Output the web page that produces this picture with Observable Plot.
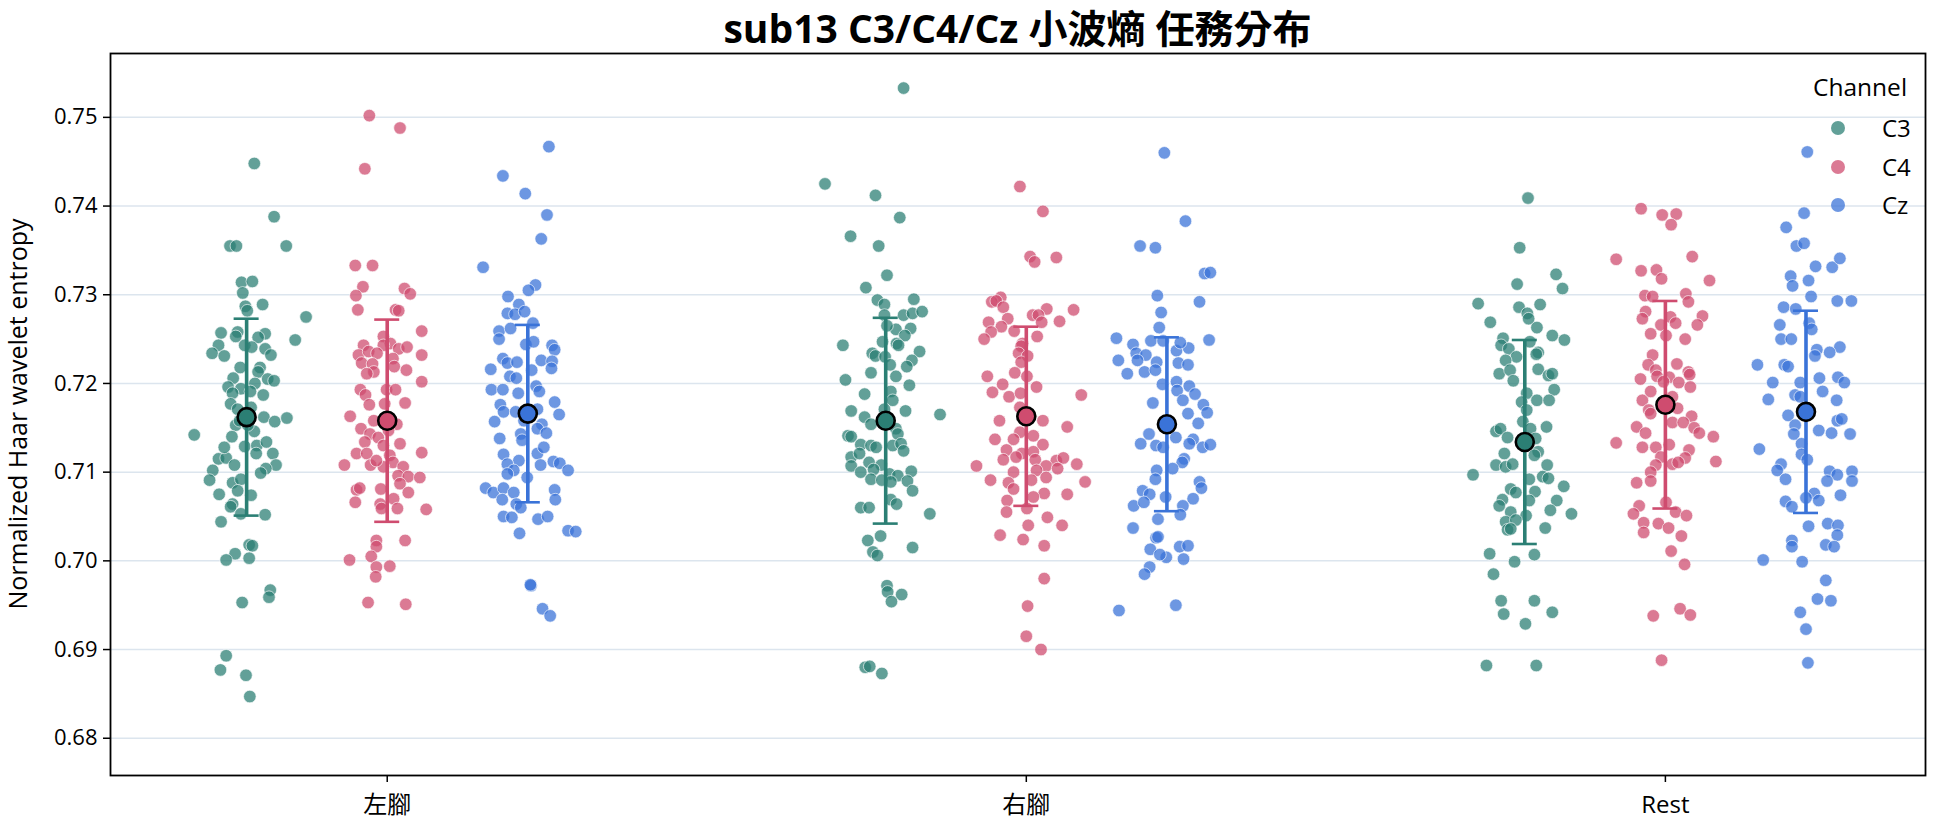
<!DOCTYPE html>
<html><head><meta charset="utf-8">
<script src="https://cdn.jsdelivr.net/npm/d3@7"></script>
<script src="https://cdn.jsdelivr.net/npm/@observablehq/plot@0.6"></script>
<style>
body{margin:0;background:#fff;font-family:"Open Sans","Noto Sans CJK TC",sans-serif;color:#000;}
#wrap{position:relative;width:1944px;height:827px;overflow:hidden;}
#title{position:absolute;z-index:5;left:110px;width:1815px;top:4px;text-align:center;font-size:39px;font-weight:bold;line-height:48px;white-space:nowrap;}
#ylabel{position:absolute;z-index:5;left:17px;top:414px;transform:translate(-50%,-50%) rotate(-90deg);white-space:nowrap;font-size:25px;line-height:1.2;}
#chart{position:absolute;z-index:1;left:0;top:43px;}
#legend{position:absolute;z-index:6;left:0;top:0;width:1944px;height:827px;pointer-events:none;}
.lt{position:absolute;font-size:24px;line-height:1.2;transform:translateY(-50%);white-space:nowrap;}
.ld{position:absolute;width:14px;height:14px;border-radius:50%;transform:translate(-50%,-50%);}
</style></head><body>
<div id="wrap">
<div id="title">sub13 C3/C4/Cz 小波熵 任務分布</div>
<div id="ylabel">Normalized Haar wavelet entropy</div>
<div id="chart"></div>
<div id="legend"></div>
</div>
<script>
// ---- data ----
const tasks = ["左腳", "右腳", "Rest"];
const channels = ["C3", "C4", "Cz"];
const yTicks = [0.68, 0.69, 0.70, 0.71, 0.72, 0.73, 0.74, 0.75];

// means and standard deviations per task (左腳, 右腳, Rest)
const meanC3 = [0.7162, 0.7158, 0.7134];
const meanC4 = [0.7158, 0.7163, 0.7176];
const meanCz = [0.7166, 0.7154, 0.7168];
const sdC3 = [0.0111, 0.0116, 0.0115];
const sdC4 = [0.0114, 0.0101, 0.0117];
const sdCz = [0.0100, 0.0098, 0.0114];

// individual points: [jitter offset (category units), value]
const leftC3 = [[.012,.7448],[.043,.7388],[-.026,.7355],[-.016,.7355],[.062,.7355],[-.008,.7314],[.009,.7315],[-.006,.7302],[-.002,.7287],[.001,.7282],[.025,.7289],[.093,.7275],[.076,.7249],[-.040,.7257],[-.014,.7258],[-.017,.7253],[.029,.7256],[.018,.7252],[-.044,.7243],[-.054,.7234],[-.035,.7231],[-.003,.7243],[.008,.7241],[.029,.7239],[.038,.7232],[-.010,.7218],[.021,.7218],[.018,.7213],[-.021,.7206],[.033,.7205],[.043,.7203],[-.029,.7196],[-.009,.7194],[.013,.7200],[.026,.7187],[-.022,.7189],[.006,.7191],
[-.025,.7177],[-.014,.7171],[.007,.7173],[.027,.7162],[.044,.7157],[.063,.7161],[-.082,.7142],[-.017,.7153],[-.023,.7140],[.012,.7146],[-.003,.7129],[.016,.7130],[.031,.7134],[.041,.7121],[.046,.7108],[.030,.7104],[-.044,.7115],[-.032,.7116],[-.019,.7108],[-.053,.7102],[-.058,.7091],[-.022,.7088],[-.009,.7092],[.022,.7099],[-.043,.7075],[-.022,.7064],[-.025,.7061],[-.009,.7053],[.029,.7052],[-.040,.7044],[.004,.7018],[.009,.7017],[-.018,.7008],[-.032,.7001],[.004,.7003],[.037,.6967],[.035,.6959],[-.007,.6953],[-.032,.6893],[-.041,.6877],[-.001,.6871],[.005,.6847],
[-.011,.7158],[.002,.7153],[.015,.7121],[-.014,.7079],[.007,.7074],[-.035,.7128]];
const leftC4 = [[-.028,.7502],[.020,.7488],[-.035,.7442],[-.050,.7333],[-.023,.7333],[-.038,.7309],[-.049,.7299],[-.046,.7283],[.027,.7307],[.036,.7301],[.013,.7283],[.018,.7282],[.054,.7259],[-.006,.7253],[.005,.7245],[-.006,.7243],[-.037,.7243],[.018,.7239],[.031,.7241],[.054,.7232],[-.045,.7232],[-.029,.7236],[-.016,.7234],[.009,.7228],[-.040,.7223],[-.023,.7222],[-.021,.7213],[-.032,.7211],[.011,.7219],[.030,.7215],[.054,.7202],[-.042,.7193],[-.034,.7187],[-.001,.7193],[.013,.7193],[.028,.7178],
[-.028,.7176],[-.004,.7177],[-.058,.7163],[.015,.7154],[-.041,.7149],[-.027,.7143],[-.014,.7139],[-.035,.7134],[-.006,.7130],[.020,.7132],[-.048,.7121],[-.032,.7121],[.004,.7119],[.054,.7122],[.009,.7111],[-.067,.7108],[-.026,.7108],[-.006,.7106],[.025,.7106],[.017,.7096],[.033,.7095],[.051,.7094],[-.048,.7080],[-.043,.7082],[-.010,.7081],[.020,.7087],[.033,.7077],[-.050,.7066],[-.011,.7064],[.010,.7070],[-.009,.7059],[.016,.7059],[.061,.7058],[-.017,.7023],[-.017,.7016],[.028,.7023],[-.025,.7005],[-.059,.7001],[-.017,.6993],[.004,.6994],[-.018,.6982],[-.030,.6953],[.029,.6951],
[-.021,.7158],[.002,.7147],[-.017,.7113]];
const leftCz = [[.033,.7467],[-.039,.7434],[-.004,.7414],[.030,.7390],[.021,.7363],[-.070,.7331],[.012,.7311],[.001,.7305],[-.031,.7298],[-.014,.7289],[-.032,.7279],[-.020,.7278],[-.005,.7281],[.008,.7268],[-.045,.7259],[-.027,.7262],[-.045,.7250],[-.003,.7244],[.009,.7247],[.038,.7243],[.042,.7238],[-.039,.7228],[-.032,.7223],[-.017,.7224],[.021,.7226],[.038,.7225],[.037,.7217],[-.058,.7216],[-.028,.7208],[-.018,.7206],[.006,.7215],[-.057,.7193],[-.039,.7193],[.013,.7197],[.018,.7191],[-.015,.7189],[.042,.7179],
[-.043,.7176],[-.038,.7168],[-.019,.7168],[.015,.7171],[.049,.7165],[-.052,.7157],[.022,.7154],[.015,.7149],[.029,.7144],[-.011,.7143],[-.009,.7136],[-.044,.7138],[-.038,.7120],[-.014,.7113],[.015,.7121],[-.032,.7109],[-.022,.7102],[.020,.7108],[.040,.7112],[.050,.7110],[.063,.7102],[-.032,.7098],[-.066,.7082],[-.054,.7077],[-.038,.7082],[-.022,.7077],[.042,.7080],[-.040,.7069],[-.018,.7064],[-.011,.7060],[.043,.7069],[-.038,.7050],[-.025,.7049],[.016,.7047],[.031,.7050],[-.013,.7031],[.063,.7034],[.075,.7033],[.005,.6972],[.004,.6973],[.023,.6946],[.035,.6938],
[-.006,.7158],[.025,.7128],[-.001,.7094]];
const rightC3 = [[.028,.7533],[-.095,.7425],[-.016,.7412],[.022,.7387],[-.055,.7366],[-.011,.7355],[.002,.7322],[-.031,.7308],[-.013,.7294],[-.002,.7289],[.044,.7295],[.028,.7277],[.042,.7279],[.057,.7281],[-.002,.7277],[.016,.7261],[.039,.7262],[.030,.7254],[.002,.7265],[-.005,.7247],[-.067,.7243],[.017,.7245],[.020,.7243],[-.021,.7234],[-.016,.7231],[-.001,.7230],[.053,.7236],[.041,.7226],[.033,.7219],[.007,.7221],[-.023,.7212],[.016,.7208],[-.063,.7204],[.037,.7198],[-.033,.7188],[.008,.7191],[.011,.7181],
[-.054,.7169],[.031,.7169],[.085,.7165],[-.033,.7162],[-.002,.7171],[-.023,.7154],[.016,.7149],[.019,.7143],[-.059,.7141],[-.054,.7140],[-.039,.7131],[-.023,.7130],[-.015,.7128],[.011,.7130],[.024,.7132],[.028,.7124],[-.054,.7117],[-.041,.7121],[-.026,.7111],[-.007,.7108],[-.054,.7107],[-.039,.7100],[-.019,.7103],[.006,.7098],[.019,.7096],[.040,.7101],[-.023,.7092],[-.006,.7091],[.008,.7089],[.034,.7090],[.042,.7079],[.008,.7069],[.017,.7064],[-.039,.7060],[-.026,.7060],[.069,.7053],[-.008,.7028],[-.028,.7023],[.042,.7015],[-.020,.7010],[-.013,.7006],[.002,.6972],[.003,.6965],[.025,.6962],[.009,.6954],[-.032,.6880],[-.025,.6881],[-.006,.6873]];
const rightC4 = [[-.010,.7422],[.026,.7394],[.006,.7343],[.013,.7337],[.047,.7342],[-.040,.7297],[-.054,.7292],[-.047,.7293],[-.036,.7286],[-.029,.7273],[.032,.7284],[.010,.7277],[.019,.7277],[.074,.7283],[-.059,.7269],[.024,.7269],[.052,.7270],[-.039,.7264],[-.019,.7259],[-.055,.7258],[-.066,.7250],[.017,.7253],[-.006,.7245],[-.008,.7242],[-.012,.7234],[.002,.7231],[-.008,.7224],[-.018,.7212],[-.061,.7208],[.001,.7208],[-.037,.7199],[-.053,.7190],[-.027,.7185],[-.009,.7189],[.016,.7196],[.086,.7187],
[-.042,.7158],[.026,.7158],[-.010,.7173],[.064,.7151],[-.010,.7145],[-.049,.7137],[-.020,.7137],[.011,.7141],[.026,.7131],[-.031,.7125],[-.007,.7121],[.011,.7123],[-.036,.7114],[-.016,.7117],[.014,.7114],[.047,.7113],[.058,.7116],[.079,.7109],[-.078,.7107],[.031,.7107],[-.020,.7100],[.016,.7102],[.049,.7104],[-.056,.7091],[-.028,.7088],[.008,.7091],[.031,.7094],[.092,.7089],[-.020,.7081],[.028,.7076],[.064,.7075],[.011,.7072],[-.030,.7068],[-.031,.7055],[.001,.7059],[.033,.7049],[.003,.7040],[.056,.7040],[-.041,.7029],[-.005,.7024],[.028,.7017],[.028,.6980],[.002,.6949],[.000,.6915],[.023,.6900]];
const rightCz = [[-.004,.7460],[.029,.7383],[-.042,.7355],[-.018,.7353],[.059,.7324],[.068,.7325],[-.015,.7299],[-.009,.7280],[.051,.7292],[-.012,.7263],[-.079,.7251],[-.025,.7248],[-.006,.7248],[.066,.7249],[-.053,.7244],[-.048,.7234],[-.033,.7232],[.015,.7237],[.034,.7240],[.021,.7246],[-.076,.7226],[-.046,.7226],[-.016,.7224],[.018,.7223],[.033,.7221],[-.062,.7211],[-.035,.7213],[-.018,.7215],[-.007,.7199],[.015,.7202],[.035,.7197],[.044,.7188],[.016,.7192],[-.022,.7178],[.057,.7176],[.025,.7181],
[.033,.7166],[.063,.7167],[.049,.7155],[-.028,.7143],[.014,.7139],[.041,.7137],[-.041,.7132],[-.017,.7130],[-.006,.7128],[.035,.7132],[.056,.7128],[.068,.7131],[.027,.7115],[.024,.7111],[-.016,.7102],[.009,.7104],[-.018,.7092],[.051,.7089],[.054,.7082],[-.038,.7079],[-.027,.7075],[-.002,.7072],[.041,.7070],[-.052,.7062],[-.036,.7066],[.025,.7062],[.021,.7052],[-.014,.7047],[-.053,.7037],[-.017,.7026],[-.014,.7027],[-.026,.7013],[.020,.7016],[.033,.7017],[-.001,.7004],[-.011,.7007],[.026,.7002],[-.027,.6993],[-.035,.6985],[-.075,.6944],[.014,.6950]];
const restC3 = [[.005,.7409],[-.008,.7353],[-.012,.7312],[.049,.7323],[.059,.7307],[-.073,.7290],[-.009,.7286],[.004,.7279],[.024,.7289],[-.054,.7269],[.006,.7273],[.019,.7263],[.043,.7254],[.062,.7249],[-.034,.7251],[-.037,.7243],[.008,.7247],[-.025,.7239],[.021,.7235],[.018,.7233],[-.013,.7230],[-.030,.7226],[-.040,.7211],[-.023,.7215],[.021,.7216],[.037,.7209],[.043,.7211],[-.018,.7203],[.046,.7193],[.003,.7189],[.019,.7181],[.038,.7181],[-.005,.7179],
[.003,.7170],[-.003,.7157],[.034,.7151],[-.045,.7146],[-.038,.7149],[.009,.7149],[-.027,.7139],[.017,.7138],[.021,.7123],[-.032,.7121],[.015,.7119],[-.045,.7108],[-.030,.7106],[-.019,.7109],[.035,.7108],[-.081,.7097],[.007,.7092],[.028,.7095],[.037,.7093],[-.022,.7081],[-.014,.7077],[.016,.7078],[.061,.7084],[-.035,.7069],[-.040,.7062],[.007,.7068],[.050,.7068],[-.022,.7055],[.002,.7051],[.040,.7057],[.073,.7053],[-.030,.7044],[-.014,.7046],[-.027,.7035],[-.022,.7036],[.032,.7037],[-.055,.7008],[.015,.7007],[-.016,.6999],[-.049,.6985],[-.037,.6955],[.015,.6955],[-.033,.6940],[.043,.6942],[.001,.6929],[-.060,.6882],[.018,.6882]];
const restC4 = [[-.038,.7397],[-.005,.7390],[.017,.7391],[.009,.7379],[-.077,.7340],[-.038,.7327],[-.014,.7328],[-.006,.7318],[.042,.7343],[.069,.7316],[-.032,.7299],[-.020,.7298],[.032,.7301],[.036,.7292],[-.031,.7281],[-.036,.7273],[.008,.7275],[.016,.7268],[.058,.7276],[.050,.7266],[-.007,.7266],[-.023,.7256],[.001,.7254],[.031,.7250],[-.020,.7232],[-.027,.7221],[.018,.7222],[-.015,.7215],[-.013,.7208],[.006,.7207],[.036,.7213],[.038,.7210],[-.039,.7205],[-.003,.7202],[.021,.7201],[.039,.7196],[-.036,.7181],[-.023,.7191],[.011,.7185],
[-.026,.7170],[-.023,.7166],[.019,.7172],[.041,.7163],[.011,.7156],[.028,.7156],[-.045,.7151],[-.031,.7144],[.045,.7150],[.053,.7144],[.075,.7140],[-.077,.7133],[-.036,.7128],[-.015,.7128],[.006,.7131],[.037,.7125],[-.007,.7117],[.031,.7116],[-.015,.7108],[.011,.7109],[.020,.7111],[.079,.7112],[-.023,.7100],[-.045,.7088],[-.023,.7090],[.001,.7066],[-.041,.7062],[-.050,.7053],[.016,.7055],[.033,.7051],[-.034,.7043],[-.011,.7042],[.005,.7037],[-.034,.7032],[.025,.7028],[.009,.7011],[.030,.6996],[-.019,.6938],[.023,.6946],[.039,.6939],[-.006,.6888]];
const restCz = [[.002,.7461],[-.003,.7392],[-.031,.7376],[-.015,.7355],[-.003,.7358],[.015,.7332],[.041,.7331],[.053,.7341],[-.024,.7321],[-.021,.7310],[.004,.7316],[.008,.7298],[-.035,.7286],[-.016,.7284],[.049,.7293],[.071,.7293],[-.041,.7266],[.005,.7268],[.009,.7261],[-.039,.7250],[-.023,.7250],[.053,.7241],[.037,.7235],[.017,.7238],[.014,.7231],[-.076,.7221],[-.034,.7221],[-.028,.7219],[-.052,.7201],[-.009,.7201],[.021,.7206],[.050,.7207],[.060,.7201],[-.059,.7182],[-.017,.7187],[-.009,.7185],[.026,.7191],[.048,.7181],
[-.028,.7164],[-.017,.7153],[.049,.7158],[.056,.7160],[.020,.7147],[.040,.7144],[.069,.7143],[-.019,.7143],[-.007,.7132],[-.073,.7126],[-.007,.7120],[.002,.7114],[-.039,.7109],[-.045,.7102],[-.032,.7092],[.037,.7101],[.049,.7097],[.072,.7101],[.072,.7090],[.033,.7090],[.013,.7076],[.054,.7074],[-.032,.7067],[-.022,.7061],[.000,.7071],[.020,.7068],[.004,.7039],[.034,.7042],[.050,.7040],[.049,.7029],[-.022,.7023],[-.022,.7016],[.031,.7018],[.044,.7016],[-.067,.7001],[-.006,.6999],[.031,.6978],[.018,.6957],[.039,.6955],[-.009,.6942],[.000,.6923],[.003,.6885]];

// ---- styling ----
const dodge = {C3: -0.22, C4: 0, Cz: 0.22};
const darkColor = {C3: "#2b7f74", C4: "#cf4c6f", Cz: "#3a73d8"};
const clusters = {C3: [leftC3, rightC3, restC3], C4: [leftC4, rightC4, restC4], Cz: [leftCz, rightCz, restCz]};
const means = {C3: meanC3, C4: meanC4, Cz: meanCz};
const sds = {C3: sdC3, C4: sdC4, Cz: sdCz};

const W = 1944, H = 784, mL = 110, mR = 19, mT = 10, mB = 52;
const xDomain = [-0.433, 2.407];
const pxPerUnit = (W - mL - mR) / (xDomain[1] - xDomain[0]);
const capHalf = 12.5 / pxPerUnit;

const pts = [], stats = [];
channels.forEach(ch => {
  clusters[ch].forEach((arr, ti) => {
    arr.forEach(([j, v]) => pts.push({ch, x: ti + dodge[ch] + j, y: v}));
    stats.push({ch, x: ti + dodge[ch], m: means[ch][ti], lo: means[ch][ti] - sds[ch][ti], hi: means[ch][ti] + sds[ch][ti]});
  });
});

const marks = [Plot.gridY(yTicks, {stroke: "#dce5ee", strokeOpacity: 1, strokeWidth: 1.5})];
channels.forEach(ch => {
  marks.push(Plot.dot(pts.filter(d => d.ch === ch), {x: "x", y: "y", r: 6.3, fill: darkColor[ch], fillOpacity: 0.74, stroke: "#ffffff", strokeOpacity: 0.8, strokeWidth: 0.8}));
});
channels.forEach(ch => {
  const s = stats.filter(d => d.ch === ch);
  marks.push(Plot.ruleX(s, {x: "x", y1: "lo", y2: "hi", stroke: darkColor[ch], strokeWidth: 3.6}));
  marks.push(Plot.ruleY(s, {y: "lo", x1: d => d.x - capHalf, x2: d => d.x + capHalf, stroke: darkColor[ch], strokeWidth: 2.6}));
  marks.push(Plot.ruleY(s, {y: "hi", x1: d => d.x - capHalf, x2: d => d.x + capHalf, stroke: darkColor[ch], strokeWidth: 2.6}));
  marks.push(Plot.dot(s, {x: "x", y: "m", r: 9, fill: darkColor[ch], stroke: "#000", strokeWidth: 2.6}));
});
marks.push(Plot.frame({stroke: "#000", strokeWidth: 1.8}));
marks.push(Plot.axisY(yTicks, {tickSize: 7, tickPadding: 6, tickFormat: d => d.toFixed(2), fontSize: 22, label: null, strokeWidth: 1.5}));
marks.push(Plot.axisX([0, 1, 2], {tickSize: 7, tickPadding: 13, tickFormat: i => tasks[i], fontSize: 24, label: null, strokeWidth: 1.5}));

const chart = Plot.plot({
  width: W, height: H,
  marginTop: mT, marginBottom: mB, marginLeft: mL, marginRight: mR,
  x: {domain: xDomain, axis: null},
  y: {domain: [0.6758, 0.7572], axis: null},
  style: {fontFamily: '"Open Sans","Noto Sans CJK TC",sans-serif', fontSize: "20px", color: "#000", background: "transparent", overflow: "visible"},
  marks
});
document.getElementById("chart").appendChild(chart);

// legend
const lg = document.getElementById("legend");
const t = document.createElement("div");
t.className = "lt"; t.textContent = "Channel";
t.style.left = "1813px"; t.style.top = "87px"; t.style.fontSize = "24.5px";
lg.appendChild(t);
const ly = {C3: 128, C4: 167, Cz: 205};
channels.forEach(ch => {
  const d = document.createElement("div");
  d.className = "ld"; d.style.left = "1838px"; d.style.top = ly[ch] + "px";
  d.style.background = darkColor[ch]; d.style.opacity = 0.74;
  lg.appendChild(d);
  const l = document.createElement("div");
  l.className = "lt"; l.textContent = ch; l.style.left = "1882px"; l.style.top = ly[ch] + "px";
  lg.appendChild(l);
});
</script>
</body></html>
